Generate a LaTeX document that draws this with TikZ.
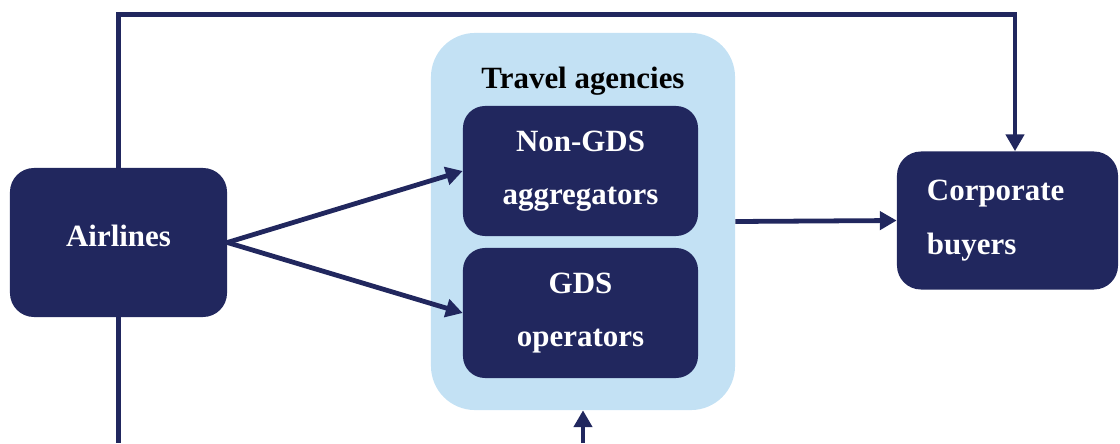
\documentclass[tikz,border=0pt]{standalone}
\usepackage{fontspec}
\setmainfont{Liberation Serif}
\usetikzlibrary{arrows.meta}

\definecolor{navy}{RGB}{33,39,94}
\definecolor{paleblue}{RGB}{195,225,244}

\begin{document}
\begin{tikzpicture}[x=0.025cm,y=0.025cm,
        link/.style={-{Triangle[length=0.42cm,width=0.45cm]},navy,line width=3.4pt},
        box node/.style={fill=navy,rounded corners=0.6cm,inner sep=0pt,text=white,align=center,
            font=\bfseries\fontsize{22}{38}\selectfont},
        group node/.style={fill=paleblue,rounded corners=1.1cm,inner sep=0pt}]

    \useasboundingbox (0,0) rectangle (1120,443);

    \node[group node, minimum width=7.6cm, minimum height=9.425cm] (agencies) at (583,221.5) {};
    \node[font=\bfseries\fontsize{22}{26}\selectfont] (title) at (583,362) {Travel agencies};

    \node[box node, minimum width=5.425cm, minimum height=3.725cm, text depth=0.35cm] (airlines) at (118.5,200.5) {Airlines};
    \node[box node, minimum width=5.875cm, minimum height=3.25cm, rounded corners=0.55cm] (nongds) at (580.5,272) {Non-GDS\\aggregators};
    \node[box node, minimum width=5.875cm, minimum height=3.25cm, rounded corners=0.55cm] (gds) at (580.5,130) {GDS\\operators};
    \node[box node, minimum width=5.525cm, minimum height=3.45cm, text width=4.025cm, align=left] (corporate) at (1007.5,222.5) {Corporate\\buyers};

    \coordinate (ctop) at ([xshift=0.1875cm]corporate.north);
    \coordinate (airbot) at (118.5,0);
    \coordinate (agbot) at (583,0);

    \draw[link] (airlines.north) -- ++(0,153) -| (ctop);
    \draw[navy, line width=3.4pt] (airlines.south) -- (airbot);
    \draw[link] (agbot) -- (agencies.south);
    \path[link]
    (airlines.east) edge (nongds.west)
    (airlines.east) edge (gds.west)
    (agencies.east) edge (corporate.west);

\end{tikzpicture}
\end{document}
